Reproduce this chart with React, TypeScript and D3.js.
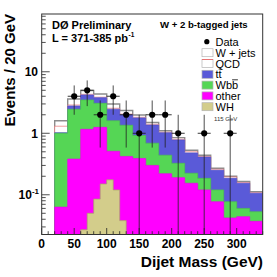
import React from 'react';
import * as d3 from 'd3';

// 20 GeV mass bins (lower edges)
const binLow = [20, 40, 60, 80, 100, 120, 140, 160, 180, 200, 220, 240, 260, 280, 300, 320];
const binWidth = 20;

// per-process contributions (events / 20 GeV)
const otherVals = [0.063, 0.38, 1.16, 1.25, 0.51, 0.42, 0.39, 0.30, 0.22, 0.19, 0.154, 0.12, 0.077, 0.042, 0.044, 0.037];
const wbbVals = [0.94, 2.08, 2.32, 1.82, 1.09, 0.93, 0.53, 0.39, 0.22, 0.135, 0.07, 0.065, 0.043, 0.035, 0.016, 0.016];
const ttVals = [0.02, 0.32, 0.72, 0.72, 0.86, 0.65, 0.86, 0.67, 0.58, 0.455, 0.256, 0.225, 0.13, 0.108, 0.094, 0.053];
const qcdVals = [0.28, 0.1, 0.1, 0.07, 0.09, 0.05, 0.04, 0.04, 0.02, 0.02, 0.02, 0.01, 0.01, 0.01, 0.004, 0.002];
const wjetsVals = [0.3, 0.72, 0.65, 0.49, 0.45, 0.3, 0.16, 0.1, 0.06, 0.05, 0.03, 0.02, 0.01, 0.005, 0.007, 0.004];

// WH (115 GeV) signal, 10 GeV bins
const whLow = [60, 70, 80, 90, 100, 110, 120];
const whWidth = 10;
const whVals = [0.027, 0.05, 0.085, 0.15, 0.175, 0.12, 0.038];

// data points (bin centres) and counts
const dataMass = [50, 70, 90, 110, 130, 150, 170, 190, 210, 250, 290];
const dataCount = [4, 5, 2, 4, 2, 1, 2, 2, 1, 1, 1];

const xTicks = [0, 50, 100, 150, 200, 250, 300];

const FONT = "'Liberation Sans', Arial, Helvetica, sans-serif";

const left = 41.7, right = 262.7, top = 14, bottom = 234.5;

const x = d3.scaleLinear().domain([0, 340]).range([left, right]);
const y = d3.scaleLog().domain([0.0226, 87]).range([bottom, top]).clamp(true);

const keys = ['other', 'wbb', 'tt', 'qcd', 'wjets'];
const rows = binLow.map((b, i) => ({
  b,
  other: otherVals[i],
  wbb: wbbVals[i],
  tt: ttVals[i],
  qcd: qcdVals[i],
  wjets: wjetsVals[i],
}));
const stacked = d3.stack<any>().keys(keys)(rows);

const fills: Record<string, string> = {
  wjets: '#ffffff',
  qcd: '#ffffff',
  tt: '#5a5ad8',
  wbb: '#55d655',
  other: '#ff00ff',
};
const strokes: Record<string, string> = {
  wjets: '#8c8c8c',
  qcd: '#e87373',
  tt: '#5050c8',
  wbb: '#4cc24c',
  other: '#ee00ee',
};

const stepArea = d3.area<[number, number]>()
  .x(d => x(d[0]))
  .y0(bottom)
  .y1(d => y(d[1]))
  .curve(d3.curveStepAfter);

function histPoints(lows: number[], w: number, vals: number[]): [number, number][] {
  const pts: [number, number][] = lows.map((b, i) => [b, vals[i]]);
  pts.push([lows[lows.length - 1] + w, vals[vals.length - 1]]);
  return pts;
}

const App: React.FC = () => {
  const layers = [...stacked].reverse();
  const yMinor = y.ticks().filter(v => Math.abs(Math.log10(v) - Math.round(Math.log10(v))) > 1e-6);
  const xMinor = d3.range(0, 341, 10).filter(v => v % 50 !== 0);

  const legendRows = [
    { key: 'wjets', label: 'W + jets' },
    { key: 'qcd', label: 'QCD' },
    { key: 'tt', label: 'tt' },
    { key: 'wbb', label: 'Wbb' },
    { key: 'other', label: 'other' },
    { key: 'wh', label: 'WH' },
  ];
  // overline spans (x start/end relative to text start) for the anti-quarks
  const bars: Record<string, [number, number]> = { tt: [3.2, 6.2], wbb: [16.6, 22.4] };

  return (
    <svg width={277} height={277} style={{ position: 'absolute', left: 0, top: 0, background: '#fff' }}
      fontFamily={FONT}>
      <defs>
        <clipPath id="frame">
          <rect x={left} y={top} width={right - left} height={bottom - top} />
        </clipPath>
      </defs>
      <rect x={0} y={0} width={277} height={277} fill="#fff" />

      <g clipPath="url(#frame)">
        {layers.map(layer => {
          const tops = layer.map(d => d[1]);
          return (
            <path key={layer.key} d={stepArea(histPoints(binLow, binWidth, tops)) || ''}
              fill={fills[layer.key]} stroke={strokes[layer.key]}
              strokeWidth={layer.key === 'wjets' ? 1.4 : 0.7} />
          );
        })}
        <path d={stepArea(histPoints(whLow, whWidth, whVals)) || ''}
          fill="#d3cd8b" stroke="#a9a26a" strokeWidth={0.7} />

        {dataMass.map((m, i) => {
          const n = dataCount[i];
          const e = Math.sqrt(n);
          const cx = x(m), cy = y(n);
          return (
            <g key={m}>
              <line x1={cx} x2={cx} y1={y(n + e)} y2={n - e > 0 ? y(n - e) : bottom}
                stroke="#222" strokeWidth={0.8} />
              <line x1={x(m - binWidth / 2)} x2={x(m + binWidth / 2)} y1={cy} y2={cy}
                stroke="#222" strokeWidth={0.9} />
              <circle cx={cx} cy={cy} r={3.1} fill="#000" />
            </g>
          );
        })}
      </g>

      {/* axis ticks, drawn inside the frame */}
      {[0.1, 1, 10].map(v => (
        <line key={'ym' + v} x1={left} x2={left + 8} y1={y(v)} y2={y(v)} stroke="#222" strokeWidth={0.8} />
      ))}
      {yMinor.map(v => (
        <line key={'yn' + v} x1={left} x2={left + 4} y1={y(v)} y2={y(v)} stroke="#222" strokeWidth={0.8} />
      ))}
      {xTicks.map(v => (
        <line key={'xm' + v} x1={x(v)} x2={x(v)} y1={bottom} y2={bottom - 6.5} stroke="#222" strokeWidth={0.8} />
      ))}
      {xMinor.map(v => (
        <line key={'xn' + v} x1={x(v)} x2={x(v)} y1={bottom} y2={bottom - 3.3} stroke="#222" strokeWidth={0.8} />
      ))}

      <rect x={left} y={top} width={right - left} height={bottom - top} fill="none" stroke="#333" strokeWidth={1} />

      {/* tick labels */}
      {xTicks.map(v => (
        <text key={'xl' + v} x={x(v)} y={248} textAnchor="middle" fontSize={12} fontWeight="bold">{v}</text>
      ))}
      <text x={38} y={y(10) + 4.3} textAnchor="end" fontSize={12} fontWeight="bold">10</text>
      <text x={38} y={y(1) + 4.3} textAnchor="end" fontSize={12} fontWeight="bold">1</text>
      <text x={39} y={y(0.1) + 4.3} textAnchor="end" fontSize={12} fontWeight="bold">
        10<tspan fontSize={8} dy={-5}>-1</tspan>
      </text>

      {/* axis titles */}
      <text x={263} y={267} textAnchor="end" fontSize={15.5} fontWeight="bold">Dijet Mass (GeV)</text>
      <text transform="translate(15,14) rotate(-90)" textAnchor="end" fontSize={15} fontWeight="bold">
        Events / 20 GeV
      </text>

      {/* annotations */}
      <text x={52} y={29} fontSize={11} fontWeight="bold">DØ Preliminary</text>
      <text x={52} y={42} fontSize={11} fontWeight="bold">L = 371-385 pb</text>
      <text x={128.5} y={36.5} fontSize={6.5} fontWeight="bold">-1</text>
      <text x={160} y={28} fontSize={9.6} fontWeight="bold">W + 2 b-tagged jets</text>

      {/* legend */}
      <circle cx={206.8} cy={41.7} r={2.6} fill="#000" />
      <text x={215.5} y={45.8} fontSize={11}>Data</text>
      {legendRows.map((r, i) => {
        const cy = 52.7 + i * 10.8;
        const fill = r.key === 'wh' ? '#d3cd8b' : fills[r.key];
        const bar = bars[r.key];
        return (
          <g key={r.key}>
            <rect x={202} y={cy - 4} width={11} height={8} fill={fill} stroke="#b4b4b4" strokeWidth={0.7} />
            {r.key === 'qcd' && <line x1={202} x2={213} y1={cy - 4} y2={cy - 4} stroke="#e87373" strokeWidth={1} />}
            <text x={215.5} y={cy + 4} fontSize={11}>{r.label}</text>
            {bar && (
              <line x1={215.5 + bar[0]} x2={215.5 + bar[1]} y1={cy - 5.3} y2={cy - 5.3}
                stroke="#000" strokeWidth={0.8} />
            )}
          </g>
        );
      })}
      <text x={214} y={120.5} fontSize={6} fill="#333">115 GeV</text>
    </svg>
  );
};

export default App;
